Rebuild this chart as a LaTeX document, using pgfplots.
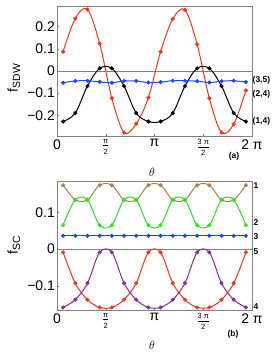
\documentclass[border=0pt]{standalone}
\usepackage{amsmath}
\usepackage{fontspec}
\setmainfont{Liberation Sans}
\usepackage{pgfplots}
\usepackage{pgfplotstable}
\pgfplotsset{compat=1.18}

\definecolor{cred}{RGB}{255,50,20}
\definecolor{cblue}{RGB}{30,70,255}
\definecolor{cgreen}{RGB}{40,230,40}
\definecolor{cbrown}{RGB}{175,125,75}
\definecolor{cpurple}{RGB}{140,40,160}
\definecolor{cframe}{RGB}{128,128,128}

\pgfplotstableread{
t        red     black   blue
0.19635  0.087  -0.228  -0.053
0.58905  0.237  -0.190  -0.045
0.98175  0.278  -0.068  -0.044
1.37445  0.124   0.012  -0.049
1.76715 -0.123   0.012  -0.053
2.15984 -0.278  -0.068  -0.045
2.55254 -0.238  -0.190  -0.045
2.94524 -0.120  -0.228  -0.052
3.33794  0.087  -0.228  -0.050
3.73064  0.235  -0.190  -0.044
4.12334  0.276  -0.068  -0.044
4.51604  0.120   0.012  -0.046
4.90874 -0.123   0.012  -0.052
5.30144 -0.278  -0.068  -0.046
5.69414 -0.240  -0.190  -0.044
6.08684 -0.088  -0.228  -0.050
}\sdwtable

\pgfplotstableread{
t        brown  green  blue   red     purple
0.19635  0.174  0.065  0.036  -0.009  -0.159
0.58905  0.134  0.134  0.036  -0.093  -0.138
0.98175  0.134  0.134  0.036  -0.138  -0.093
1.37445  0.174  0.065  0.036  -0.159  -0.009
1.76715  0.174  0.065  0.036  -0.159  -0.009
2.15984  0.134  0.134  0.036  -0.138  -0.093
2.55254  0.134  0.134  0.036  -0.093  -0.138
2.94524  0.174  0.065  0.036  -0.009  -0.159
3.33794  0.174  0.065  0.036  -0.009  -0.159
3.73064  0.134  0.134  0.036  -0.093  -0.138
4.12334  0.134  0.134  0.036  -0.138  -0.093
4.51604  0.174  0.065  0.036  -0.159  -0.009
4.90874  0.174  0.065  0.036  -0.159  -0.009
5.30144  0.134  0.134  0.036  -0.138  -0.093
5.69414  0.134  0.134  0.036  -0.093  -0.138
6.08684  0.174  0.065  0.036  -0.009  -0.159
}\sctable

\newcommand{\fr}[2]{$\frac{\mbox{\fontsize{7.5}{8}\selectfont #1}}{\mbox{\fontsize{7.5}{8}\selectfont #2}}$}

\pgfplotsset{
  myaxis/.style={
    scale only axis,
    width=195bp,
    xmin=0, xmax=6.28319,
    axis line style={cframe, line width=0.5pt},
    tick style={cframe, line width=0.5pt},
    tick align=inside,
    tick pos=left,
    major tick length=2.5pt,
    xtick={0,1.5708,3.14159,4.71239,6.28319},
    xticklabels={0, \fr{π}{2}, π, \fr{3 π}{2}, 2 π},
    ticklabel style={font=\fontsize{14}{14}\selectfont},
    yticklabel style={inner sep=2pt},
    /pgf/number format/assume math mode=true,
    every axis plot/.append style={line width=1pt, smooth, tension=0.55, mark=*, mark size=1.5pt, mark options={solid}},
  },
}
\tikzset{lab/.style={font=\fontsize{8.5}{8.5}\selectfont\bfseries, anchor=west, inner sep=0pt}}

\begin{document}
\begin{tikzpicture}[x=1bp,y=1bp]
\path[use as bounding box] (0,0) rectangle (280,361);

% ---- top panel (a) ----
\begin{axis}[myaxis,
  at={(57bp,225bp)}, anchor=south west,
  height=130bp,
  ymin=-0.2935, ymax=0.2935,
  ytick={-0.2,-0.1,0,0.1,0.2},
  yticklabels={−0.2,−0.1,0,0.1,0.2},
]
\addplot[cframe, line width=0.5pt, mark=none, sharp plot] coordinates {(0,0) (6.28319,0)};
\addplot[color=cred] table[x=t, y=red] {\sdwtable};
\addplot[black] table[x=t, y=black] {\sdwtable};
\addplot[color=cblue] table[x=t, y=blue] {\sdwtable};
\end{axis}

% ---- bottom panel (b) ----
\begin{axis}[myaxis,
  at={(57bp,51bp)}, anchor=south west,
  height=128.3bp,
  ymin=-0.166, ymax=0.1834,
  ytick={-0.1,0,0.1},
  yticklabels={−0.1,0,0.1},
]
\addplot[cframe, line width=0.5pt, mark=none, sharp plot] coordinates {(0,0) (6.28319,0)};
\addplot[color=cbrown] table[x=t, y=brown] {\sctable};
\addplot[color=cgreen] table[x=t, y=green] {\sctable};
\addplot[color=cblue] table[x=t, y=blue] {\sctable};
\addplot[color=cred] table[x=t, y=red] {\sctable};
\addplot[color=cpurple] table[x=t, y=purple] {\sctable};
\end{axis}

% axis labels
\node[rotate=90, inner sep=0pt] at (14,283) {\fontsize{14}{14}\selectfont f\raisebox{-2.5pt}{\fontsize{10.5}{10.5}\selectfont SDW}};
\node[rotate=90, inner sep=0pt] at (14,116) {\fontsize{14}{14}\selectfont f\raisebox{-2.5pt}{\fontsize{10.5}{10.5}\selectfont SC}};
\node[font=\fontsize{13}{13}\selectfont] at (152,189) {$\theta$};
\node[font=\fontsize{13}{13}\selectfont] at (152,16) {$\theta$};

% curve labels
\node[lab] at (252.5,281) {(3,5)};
\node[lab] at (252.5,267) {(2,4)};
\node[lab] at (252.5,240) {(1,4)};
\node[lab] at (253.5,175) {1};
\node[lab] at (253.5,138) {2};
\node[lab] at (253.5,124) {3};
\node[lab] at (253.5,109.5) {5};
\node[lab] at (253.5,54) {4};
\node[font=\fontsize{8.5}{8.5}\selectfont\bfseries] at (234,205) {(a)};
\node[font=\fontsize{8.5}{8.5}\selectfont\bfseries] at (233,27) {(b)};
\end{tikzpicture}
\end{document}
